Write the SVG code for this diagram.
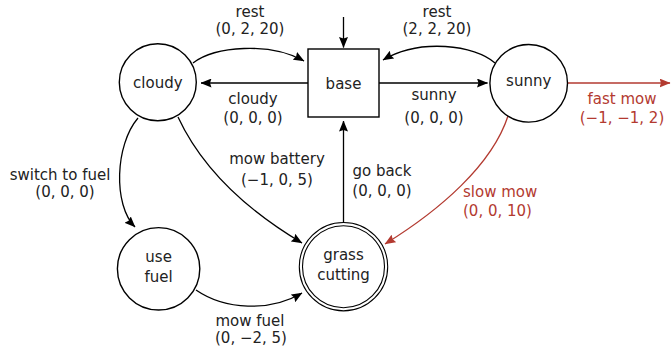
<svg xmlns="http://www.w3.org/2000/svg" width="671" height="348" viewBox="0 0 671 348">
  <style>
    text { font-family: "DejaVu Sans", "Liberation Sans", sans-serif; font-size: 15px; fill: #222; text-anchor: middle; }
    .node { fill: #fff; stroke: #000; stroke-width: 1.4; }
    .ring { fill: none; stroke: #000; stroke-width: 1.1; }
    .edge { fill: none; stroke: #000; stroke-width: 1.3; }
    .hot { stroke: #b33a30; }
    text.hot { fill: #b33a30; stroke: none; }
    .lft { text-anchor: start; }
  </style>
  <defs>
    <marker id="tip" markerUnits="userSpaceOnUse" viewBox="0 0 11 9" refX="10.5" refY="4.5" markerWidth="11" markerHeight="9" orient="auto">
      <path d="M0,0 L11,4.5 L0,9 L1.5,4.5 Z" fill="#000"/>
    </marker>
    <marker id="tipRed" markerUnits="userSpaceOnUse" viewBox="0 0 11 9" refX="10.5" refY="4.5" markerWidth="11" markerHeight="9" orient="auto">
      <path d="M0,0 L11,4.5 L0,9 L1.5,4.5 Z" fill="#b33a30"/>
    </marker>
  </defs>

  <!-- transitions -->
  <g id="edges">
    <!-- initial arrow into base -->
    <path class="edge" d="M343.5,17 L343.5,47.5" marker-end="url(#tip)"/>
    <!-- cloudy -> base : rest -->
    <path class="edge" d="M193,63 C215,46 270,42 304,61" marker-end="url(#tip)"/>
    <!-- sunny -> base : rest -->
    <path class="edge" d="M495,63 C475,45 420,38 383,60" marker-end="url(#tip)"/>
    <!-- base -> cloudy -->
    <path class="edge" d="M308,83 L201,83" marker-end="url(#tip)"/>
    <!-- base -> sunny -->
    <path class="edge" d="M379,83 L487.5,83" marker-end="url(#tip)"/>
    <!-- sunny -> out : fast mow -->
    <path class="edge hot" d="M567,83 L670,83" marker-end="url(#tipRed)"/>
    <!-- sunny -> grass cutting : slow mow -->
    <path class="edge hot" d="M508,116 C492,165 440,210 385,244" marker-end="url(#tipRed)"/>
    <!-- cloudy -> use fuel -->
    <path class="edge" d="M138,118 C115,145 113,205 135,227" marker-end="url(#tip)"/>
    <!-- cloudy -> grass cutting : mow battery -->
    <path class="edge" d="M178,117 C205,175 255,215 302,243" marker-end="url(#tip)"/>
    <!-- use fuel -> grass cutting : mow fuel -->
    <path class="edge" d="M196,290 C225,310 270,312 302,293" marker-end="url(#tip)"/>
    <!-- grass cutting -> base : go back -->
    <path class="edge" d="M343.5,222 L343.5,121" marker-end="url(#tip)"/>

    <!-- labels -->
    <text x="250" y="16.5">rest</text>
    <text x="250" y="34">(0, 2, 20)</text>
    <text x="437" y="16.5">rest</text>
    <text x="437" y="34">(2, 2, 20)</text>
    <text x="253" y="104">cloudy</text>
    <text x="253" y="123">(0, 0, 0)</text>
    <text x="434" y="100">sunny</text>
    <text x="434" y="123">(0, 0, 0)</text>
    <text class="hot" x="622" y="104">fast mow</text>
    <text class="hot" x="622" y="123">(−1, −1, 2)</text>
    <text class="hot lft" x="463" y="197">slow mow</text>
    <text class="hot lft" x="463" y="216">(0, 0, 10)</text>
    <text x="60" y="180">switch to fuel</text>
    <text x="65" y="197">(0, 0, 0)</text>
    <text x="277" y="164">mow battery</text>
    <text x="277" y="185">(−1, 0, 5)</text>
    <text x="382" y="176">go back</text>
    <text x="382" y="195.5">(0, 0, 0)</text>
    <text x="250" y="326">mow fuel</text>
    <text x="251" y="343">(0, −2, 5)</text>
  </g>

  <g id="cloudy">
    <circle class="node" cx="157.8" cy="82.3" r="38.5"/>
    <text x="157.8" y="88">cloudy</text>
  </g>
  <g id="base">
    <rect class="node" x="308" y="49" width="71" height="68"/>
    <text x="343.5" y="88.5">base</text>
  </g>
  <g id="sunny">
    <circle class="node" cx="528.7" cy="83.3" r="38.8"/>
    <text x="528.7" y="85.5">sunny</text>
  </g>
  <g id="use-fuel">
    <circle class="node" cx="158.6" cy="268.8" r="41.2"/>
    <text x="158.6" y="261.5">use</text>
    <text x="158.6" y="281.5">fuel</text>
  </g>
  <g id="grass-cutting">
    <circle class="node" cx="343.5" cy="266.7" r="44.2" style="stroke-width:1.1"/>
    <circle class="ring" cx="343.5" cy="266.7" r="41"/>
    <text x="343.5" y="260">grass</text>
    <text x="343.5" y="280">cutting</text>
  </g>
</svg>
